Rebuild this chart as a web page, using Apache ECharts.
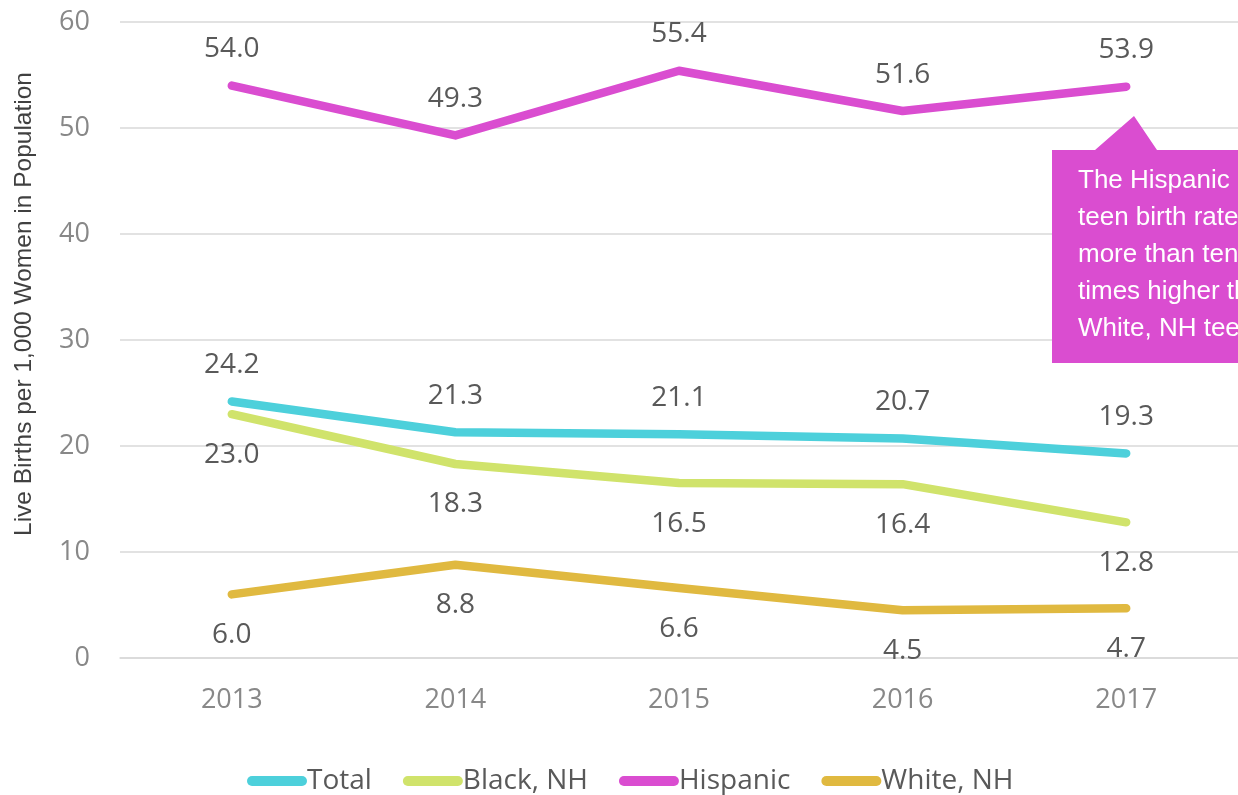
<!DOCTYPE html>
<html>
<head>
<meta charset="utf-8">
<script src="https://cdn.jsdelivr.net/npm/echarts@6/dist/echarts.min.js"></script>
<style>
  html, body { margin: 0; padding: 0; background: #fff; }
  #chart { width: 1238px; height: 795px; }
</style>
</head>
<body>
<div id="chart"></div>
<script>
// Teen birth rates by race/ethnicity, 2013–2017
const years = ['2013', '2014', '2015', '2016', '2017'];
const total = [24.2, 21.3, 21.1, 20.7, 19.3];
const blackNH = [23.0, 18.3, 16.5, 16.4, 12.8];
const hispanic = [54.0, 49.3, 55.4, 51.6, 53.9];
const whiteNH = [6.0, 8.8, 6.6, 4.5, 4.7];
const yTicks = { min: 0, max: 60, interval: 10 };

const colors = {
  total: '#4dd0db',
  black: '#d0e36b',
  hispanic: '#da4dd0',
  white: '#e0b940'
};

const chart = echarts.init(document.getElementById('chart'), null, { renderer: 'canvas' });

function lineSeries(name, data, color, labelPos) {
  return {
    name: name,
    type: 'line',
    data: data,
    symbol: 'circle',
    symbolSize: 1,
    showSymbol: true,
    smooth: false,
    lineStyle: { width: 8.5, color: color, cap: 'round', join: 'round' },
    itemStyle: { color: color },
    label: {
      show: true,
      position: labelPos,
      distance: labelPos === 'top' ? 22 : 26,
      formatter: p => p.value.toFixed(1),
      fontFamily: 'Open Sans',
      fontSize: 28,
      color: '#595959'
    },
    emphasis: { disabled: true },
    animation: false
  };
}

const calloutLines = [
  'The Hispanic',
  'teen birth rate is',
  'more than ten',
  'times higher than',
  'White, NH teens.'
];

// pill-shaped legend swatch
const pillIcon = 'path://M5,0 L55,0 A5,5 0 0 1 55,10 L5,10 A5,5 0 0 1 5,0 Z';

chart.setOption({
  animation: false,
  grid: { left: 120, right: -1, top: 22, bottom: 137, containLabel: false },
  legend: {
    top: 762,
    left: 242,
    itemWidth: 60,
    itemHeight: 10,
    itemGap: 31,
    icon: pillIcon,
    textStyle: { fontFamily: 'Open Sans', fontSize: 28, color: '#595959', padding: [0, 0, 0, -5] },
    data: ['Total', 'Black, NH', 'Hispanic', 'White, NH']
  },
  xAxis: {
    type: 'category',
    data: years,
    boundaryGap: true,
    axisLine: { show: true, lineStyle: { color: '#d9d9d9', width: 1.5 } },
    axisTick: { show: false },
    axisLabel: { fontFamily: 'Open Sans', fontSize: 27, color: '#888888', margin: 29 }
  },
  yAxis: {
    type: 'value',
    min: yTicks.min,
    max: yTicks.max,
    interval: yTicks.interval,
    axisLine: { show: false },
    axisTick: { show: false },
    axisLabel: { fontFamily: 'Open Sans', fontSize: 27, color: '#888888', margin: 30 },
    splitLine: { lineStyle: { color: '#d9d9d9', width: 1.5 } }
  },
  graphic: [
    {
      type: 'text',
      x: 24,
      y: 304,
      rotation: Math.PI / 2,
      style: {
        text: 'Live Births per 1,000 Women in Population',
        font: '24.5px "Liberation Sans", Arial, sans-serif',
        fill: '#404040',
        textAlign: 'center',
        textVerticalAlign: 'middle'
      }
    },
    {
      type: 'polygon',
      shape: {
        points: [[1052, 150], [1095, 150], [1134, 116], [1157, 150], [1240, 150], [1240, 363], [1052, 363]]
      },
      style: { fill: '#da4dd0' },
      z: 10
    },
    {
      type: 'text',
      x: 1078,
      y: 162,
      style: {
        text: calloutLines.join('\n'),
        font: '26px "Liberation Sans", Arial, sans-serif',
        fill: '#ffffff',
        lineHeight: 37,
        textAlign: 'left',
        textVerticalAlign: 'top'
      },
      z: 11
    }
  ],
  series: [
    lineSeries('Total', total, colors.total, 'top'),
    lineSeries('Black, NH', blackNH, colors.black, 'bottom'),
    lineSeries('Hispanic', hispanic, colors.hispanic, 'top'),
    lineSeries('White, NH', whiteNH, colors.white, 'bottom')
  ]
});
</script>
</body>
</html>
